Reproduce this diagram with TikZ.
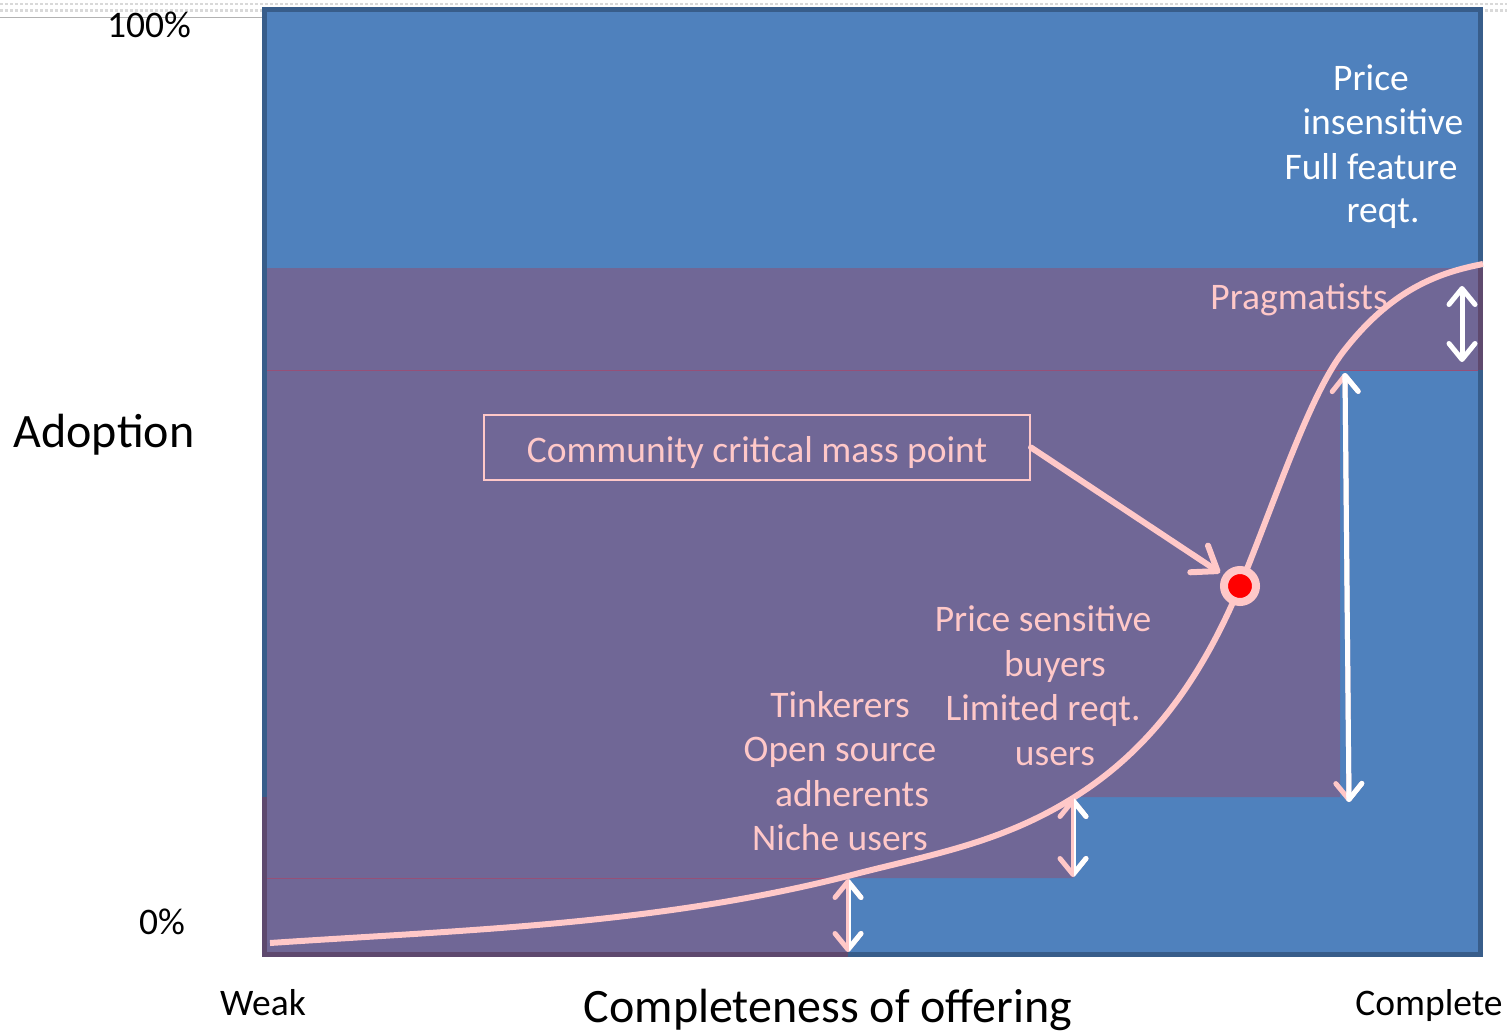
\documentclass[tikz,border=0pt]{standalone}
\usepackage{fontspec}
\setmainfont{Carlito}
\usetikzlibrary{arrows.meta}
\definecolor{blu}{HTML}{4F81BD}
\definecolor{bord}{HTML}{385D8A}
\definecolor{purp}{HTML}{706796}
\definecolor{dpurp}{HTML}{5E496E}
\definecolor{redln}{HTML}{965078}
\definecolor{pnk}{HTML}{FFC8C8}
\begin{document}
\begin{tikzpicture}[x=1pt,y=-1pt,
  smalltxt/.style={font=\fontsize{37.5}{45}\selectfont, anchor=base, inner sep=0pt},
  bigtxt/.style={font=\fontsize{48}{58}\selectfont, anchor=base, inner sep=0pt},
  pinktxt/.style={smalltxt, text=pnk},
  whitetxt/.style={smalltxt, text=white},
  barb/.tip={Straight Barb[length=16pt,width=26pt,line cap=round,line join=round]},
  dblarrow/.style={line width=5pt, barb-barb},
  pinkarrow/.style={dblarrow, draw=pnk},
  whitearrow/.style={dblarrow, draw=white}]
\useasboundingbox (0,0) rectangle (1507,1033);
% top band
\draw[gray!30, line width=2.5pt, dash pattern=on 2.5pt off 2.5pt] (0,4) -- (1507,4);
\draw[gray!30, line width=2.5pt, dash pattern=on 2.5pt off 2.5pt] (0,10.5) -- (1507,10.5);
\draw[gray!60, line width=1.5pt] (0,17.5) -- (262,17.5);
% main blue area
\draw[line width=5pt, draw=bord, fill=blu] (264.5,9.5) rectangle (1480.5,954.5);
% purple staircase
\fill[purp] (267,268) -- (1478,268) -- (1478,370) -- (1340,370) -- (1340,797) -- (1073,797)
  -- (1073,878) -- (848,878) -- (848,952) -- (267,952) -- cycle;
\fill[dpurp] (262,797) rectangle (267,957);
\fill[dpurp] (262,952) rectangle (848,957);
\fill[dpurp] (1478,268) rectangle (1483,370);
\draw[redln, line width=1pt] (267,370.5) -- (1478,370.5);
\draw[redln, line width=1pt] (267,878.5) -- (848,878.5);
% axis labels
\node[smalltxt] (p100) at (149,38) {100\%};
\node[smalltxt] (p0) at (162,934) {0\%};
\node[bigtxt] (adopt) at (104,447) {Adoption};
\node[smalltxt] (weak) at (263,1015) {Weak};
\node[bigtxt] (compl) at (828,1022) {Completeness of offering};
\node[smalltxt] (complete) at (1429,1015) {Complete};
% white text
\node[whitetxt] (w1) at (1371,90) {Price};
\node[whitetxt] (w2) at (1383,134) {insensitive};
\node[whitetxt] (w3) at (1371,179) {Full feature};
\node[whitetxt] (w4) at (1383,222) {reqt.};
% pink text
\node[pinktxt] (prag) at (1299,309) {Pragmatists};
\node[pinktxt] (ps1) at (1043,631) {Price sensitive};
\node[pinktxt] (ps2) at (1055,676) {buyers};
\node[pinktxt] (ps3) at (1043,720) {Limited reqt.};
\node[pinktxt] (ps4) at (1055,765) {users};
\node[pinktxt] (tk1) at (840,717) {Tinkerers};
\node[pinktxt] (tk2) at (840,761) {Open source};
\node[pinktxt] (tk3) at (852,806) {adherents};
\node[pinktxt] (tk4) at (840,850) {Niche users};
% box
\node[draw=pnk, line width=2pt, minimum width=546pt, minimum height=65pt, inner sep=0pt,
  text=pnk, font=\fontsize{37.5}{45}\selectfont, text height=36pt, text depth=7pt]
  (cm) at (757,447.5) {Community critical mass point};
% curve
\draw[pnk, line width=6pt] (270,943) .. controls (463,930) and (655,925) .. (848,876)
  .. controls (923,856) and (998,845) .. (1073,798)
  .. controls (1129,763) and (1190,706) .. (1240,586)
  .. controls (1274,504) and (1309,396) .. (1343,352)
  .. controls (1390,291) and (1436,273) .. (1483,264);
% double arrows
\coordinate (a1t) at (848,879); \coordinate (a1b) at (848,952);
\coordinate (a2t) at (1073,798); \coordinate (a2b) at (1073,877);
\coordinate (a3t) at (1345,373); \coordinate (a3b) at (1349,802);
\coordinate (a4t) at (1462,286); \coordinate (a4b) at (1462,362);
\draw[pinkarrow] (a1t) -- (a1b);
\begin{scope}\clip (849,860) rectangle (880,960); \draw[whitearrow] (a1t) -- (a1b); \end{scope}
\draw[pinkarrow] (a2t) -- (a2b);
\begin{scope}\clip (1074,780) rectangle (1110,890); \draw[whitearrow] (a2t) -- (a2b); \end{scope}
\draw[pinkarrow] (a3t) -- (a3b);
\begin{scope}\clip (1342.3,360) -- (1346.5,815) -- (1390,815) -- (1390,360) -- cycle; \draw[whitearrow] (a3t) -- (a3b); \end{scope}
\draw[whitearrow] (a4t) -- (a4b);
% dot and arrow
\node[circle, fill=red, draw=pnk, line width=8pt, minimum size=32pt, inner sep=0pt] (dot) at (1240,586) {};
\draw[pnk, line width=6pt, line cap=round, shorten >=4pt,
  -{Straight Barb[length=22pt,width=32pt,line cap=round,line join=round]}] (cm.east) -- (dot);
\end{tikzpicture}
\end{document}
